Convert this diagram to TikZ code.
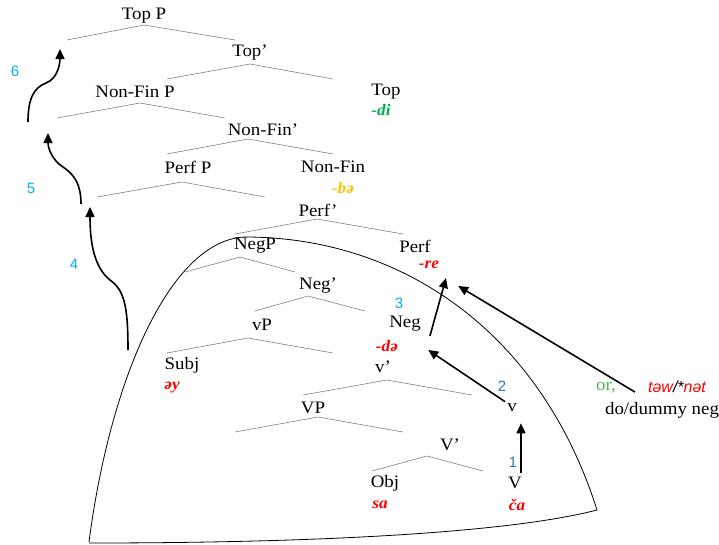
\documentclass[tikz,border=0pt]{standalone}
\usepackage{fontspec}
\setmainfont{Liberation Serif}[FakeStretch=1.08]
\newfontfamily\numfont{Liberation Sans}
\usepackage{tikz}
\usetikzlibrary{arrows.meta, positioning, calc}

\definecolor{morphred}{RGB}{255,0,0}
\definecolor{topgreen}{RGB}{0,176,80}
\definecolor{finorange}{RGB}{255,192,0}
\definecolor{steplight}{RGB}{0,176,240}
\definecolor{stepdark}{RGB}{46,117,182}
\definecolor{orgreen}{RGB}{90,180,90}

\begin{document}
\begin{tikzpicture}[x=1pt, y=-1pt, >={Triangle[length=10pt,width=9pt]},
    lbl/.style={inner sep=1pt, font=\fontsize{17.5}{20}\selectfont},
    morph/.style={inner sep=1pt, font=\fontsize{16}{19}\selectfont\bfseries\itshape},
    stepnum/.style={inner sep=1pt, font=\numfont\fontsize{15}{18}\selectfont},
    branch/.style={gray, line width=0.6pt},
    move/.style={->, line width=1.6pt}]
    \useasboundingbox (0,0) rectangle (719,544);

    % tree labels
    \node[lbl] (topP) at (144,16) {Top P};
    \node[lbl] (topbar) at (250,53) {Top’};
    \node[lbl] (nfP) at (135,92) {Non-Fin P};
    \node[lbl] (top) at (386,92) {Top};
    \node[morph, topgreen] (di) at (381,110) {-di};
    \node[lbl] (nfbar) at (263,130) {Non-Fin’};
    \node[lbl] (perfP) at (188,167) {Perf P};
    \node[lbl] (nonfin) at (333,167) {Non-Fin};
    \node[morph, finorange] (be) at (343,188) {-bə};
    \node[lbl] (perfbar) at (318,210) {Perf’};
    \node[lbl] (negP) at (255,246) {NegP};
    \node[lbl] (perf) at (415,246) {Perf};
    \node[morph, morphred] (re) at (429,265) {-re};
    \node[lbl] (negbar) at (318,286) {Neg’};
    \node[lbl] (vP) at (262,325) {vP};
    \node[lbl] (neg) at (405,324) {Neg};
    \node[morph, morphred] (de) at (387,346) {-də};
    \node[lbl] (subj) at (182,365) {Subj};
    \node[morph, morphred] (ay) at (172,387) {əy};
    \node[lbl] (vbar) at (383,367) {v’};
    \node[lbl] (VP) at (313,408) {VP};
    \node[lbl] (v) at (512,408) {v};
    \node[lbl] (Vbar) at (450,445) {V’};
    \node[lbl] (obj) at (385,483) {Obj};
    \node[lbl] (V) at (515,483) {V};
    \node[morph, morphred] (sa) at (380,505) {sɑ};
    \node[morph, morphred] (ca) at (517,505) {čɑ};

    % do-support
    \node[lbl, text=orgreen] (or) at (606,388) {or,};
    \node[inner sep=1pt, font=\numfont\itshape\fontsize{16}{19}\selectfont, text=morphred]
        (taw) at (677,387) {tǝw\textcolor{black}{/*}nǝt};
    \node[lbl] (doneg) at (662,410) {do/dummy neg};

    % step numbers
    \node[stepnum, stepdark] (n1) at (513,462) {1};
    \node[stepnum, stepdark] (n2) at (502,386) {2};
    \node[stepnum, steplight] (n3) at (399,303) {3};
    \node[stepnum, steplight] (n4) at (74,264) {4};
    \node[stepnum, steplight] (n5) at (31,188) {5};
    \node[stepnum, steplight] (n6) at (15,71) {6};

    % branches: left end, apex x, apex y, right end
    \foreach \lx/\ax/\ay/\rx in {67/144/25/235, 167/250/64/333, 57/140/103/225,
        167/248/139/333, 97/182/182/265, 235/317/219/403, 185/240/257/295,
        255/308/296/365, 167/248/338/333, 303/387/380/472, 235/318/417/403,
        372/427/456/483}
        \draw[branch] (\lx,\ay+15) -- (\ax,\ay) -- (\rx,\ay+15);

    % phase boundary
    \draw[line width=0.8pt] (89,542) .. controls (110,380) and (170,240) .. (245,237)
        .. controls (400,237) and (540,330) .. (597,510)
        .. controls (520,530) and (350,543) .. (89,543);

    % head movement
    \draw[move] ($(V.north)+(6,-3)$) -- ($(v.south)+(9,10)$);
    \draw[move] ($(v.north west)+(-1,-1)$) -- ($(de.east)+(29,4)$);
    \draw[move] ($(neg.east)+(8,12)$) -- ($(re.south)+(17,8)$);
    \draw[move] ($(taw.west)+(-12,5)$) -- ($(re.east)+(18,21)$);

    % specifier movement
    \coordinate (vPedge) at (128,350);
    \coordinate (perfSpec) at (90,207);
    \coordinate (nfFoot) at (81,204);
    \coordinate (nfSpec) at (48,133);
    \coordinate (topFoot) at (28,122);
    \coordinate (topSpec) at (60,49);
    \draw[move] (vPedge) .. controls (128,305) and (124,290) .. (110,280)
        .. controls (95,268) and (90,245) .. (perfSpec);
    \draw[move] (nfFoot) .. controls (81,185) and (75,175) .. (63,167)
        .. controls (52,160) and (48,148) .. (nfSpec);
    \draw[move] (topFoot) .. controls (28,100) and (33,88) .. (46,83)
        .. controls (57,79) and (60,65) .. (topSpec);
\end{tikzpicture}
\end{document}
